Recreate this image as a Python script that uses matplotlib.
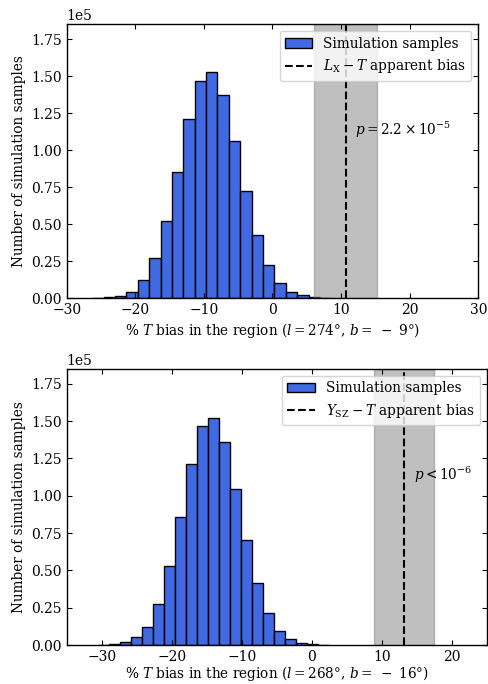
import matplotlib
matplotlib.use("Agg")
import matplotlib.pyplot as plt

plt.rcParams["font.family"] = "serif"
plt.rcParams["font.serif"] = ["DejaVu Serif"]
plt.rcParams["mathtext.fontset"] = "dejavuserif"
plt.rcParams["font.size"] = 9.8
plt.rcParams["xtick.labelsize"] = 10
plt.rcParams["ytick.labelsize"] = 10
plt.rcParams["xtick.direction"] = "in"
plt.rcParams["ytick.direction"] = "in"
plt.rcParams["xtick.top"] = True
plt.rcParams["ytick.right"] = True
plt.rcParams["axes.linewidth"] = 1.0

# Region (l=274, b=-9): L_X - T scaling
edges_lx = [-26.28, -24.62, -22.96, -21.30, -19.64, -17.98, -16.32, -14.66,
            -13.00, -11.34, -9.68, -8.02, -6.36, -4.70, -3.04, -1.38, 0.28,
            1.94, 3.60, 5.26, 6.92, 8.58]
counts_lx = [200, 700, 1800, 4500, 12200, 26900, 52400, 85600, 120800,
             146500, 152600, 137200, 106300, 72200, 42700, 22300, 10400,
             4300, 2000, 900, 400]
bias_lx = 10.65
err_lx = 4.6
p_lx = r"$p=2.2\times10^{-5}$"

# Region (l=268, b=-16): Y_SZ - T scaling
edges_ysz = [-30.57, -29.00, -27.43, -25.86, -24.29, -22.72, -21.15, -19.58,
             -18.00, -16.43, -14.86, -13.29, -11.72, -10.15, -8.58, -7.00,
             -5.43, -3.86, -2.29, -0.72, 0.85, 2.42]
counts_ysz = [200, 900, 2000, 5200, 12400, 27700, 52800, 85800, 121500,
              146800, 151900, 136200, 104500, 70500, 41700, 21300, 9600,
              3700, 1500, 700, 200]
bias_ysz = 13.2
err_ysz = 4.26
p_ysz = r"$p<10^{-6}$"

fig = plt.figure(figsize=(4.89, 6.84), dpi=100)
ax1 = fig.add_axes([0.1364, 0.5639, 0.8417, 0.4006])
ax2 = fig.add_axes([0.1364, 0.0570, 0.8589, 0.4036])

panels = [
    (ax1, edges_lx, counts_lx, bias_lx, err_lx, p_lx,
     r"$L_{\rm X}-T$ apparent bias", (-30, 30), 3,
     r"% $T$ bias in the region $(l=274°,\, b=\;-\;9°)$"),
    (ax2, edges_ysz, counts_ysz, bias_ysz, err_ysz, p_ysz,
     r"$Y_{\rm SZ}-T$ apparent bias", (-35, 25), 0,
     r"% $T$ bias in the region $(l=268°,\, b=\;-\;16°)$"),
]

for ax, edges, counts, bias, err, ptxt, lab, xlim, pad, xlab in panels:
    centers = [(a + b) / 2 for a, b in zip(edges[:-1], edges[1:])]
    ax.hist(centers, bins=edges, weights=counts, color="royalblue",
            edgecolor="black", linewidth=1.0, label="Simulation samples")
    ax.axvspan(bias - err, bias + err, color="gray", alpha=0.5, lw=1.0)
    ax.axvline(bias, color="black", ls="--", lw=1.5, label=lab)
    ax.text(bias + 1.4, 1.14e5, ptxt, va="center", ha="left")
    ax.set_xlim(*xlim)
    ax.set_ylim(0, 1.85e5)
    ax.ticklabel_format(axis="y", style="sci", scilimits=(0, 0))
    ax.set_xlabel(xlab, labelpad=pad)
    ax.set_ylabel("Number of simulation samples")
    ax.legend(loc="upper right")

fig.savefig("out.png", dpi=100)
